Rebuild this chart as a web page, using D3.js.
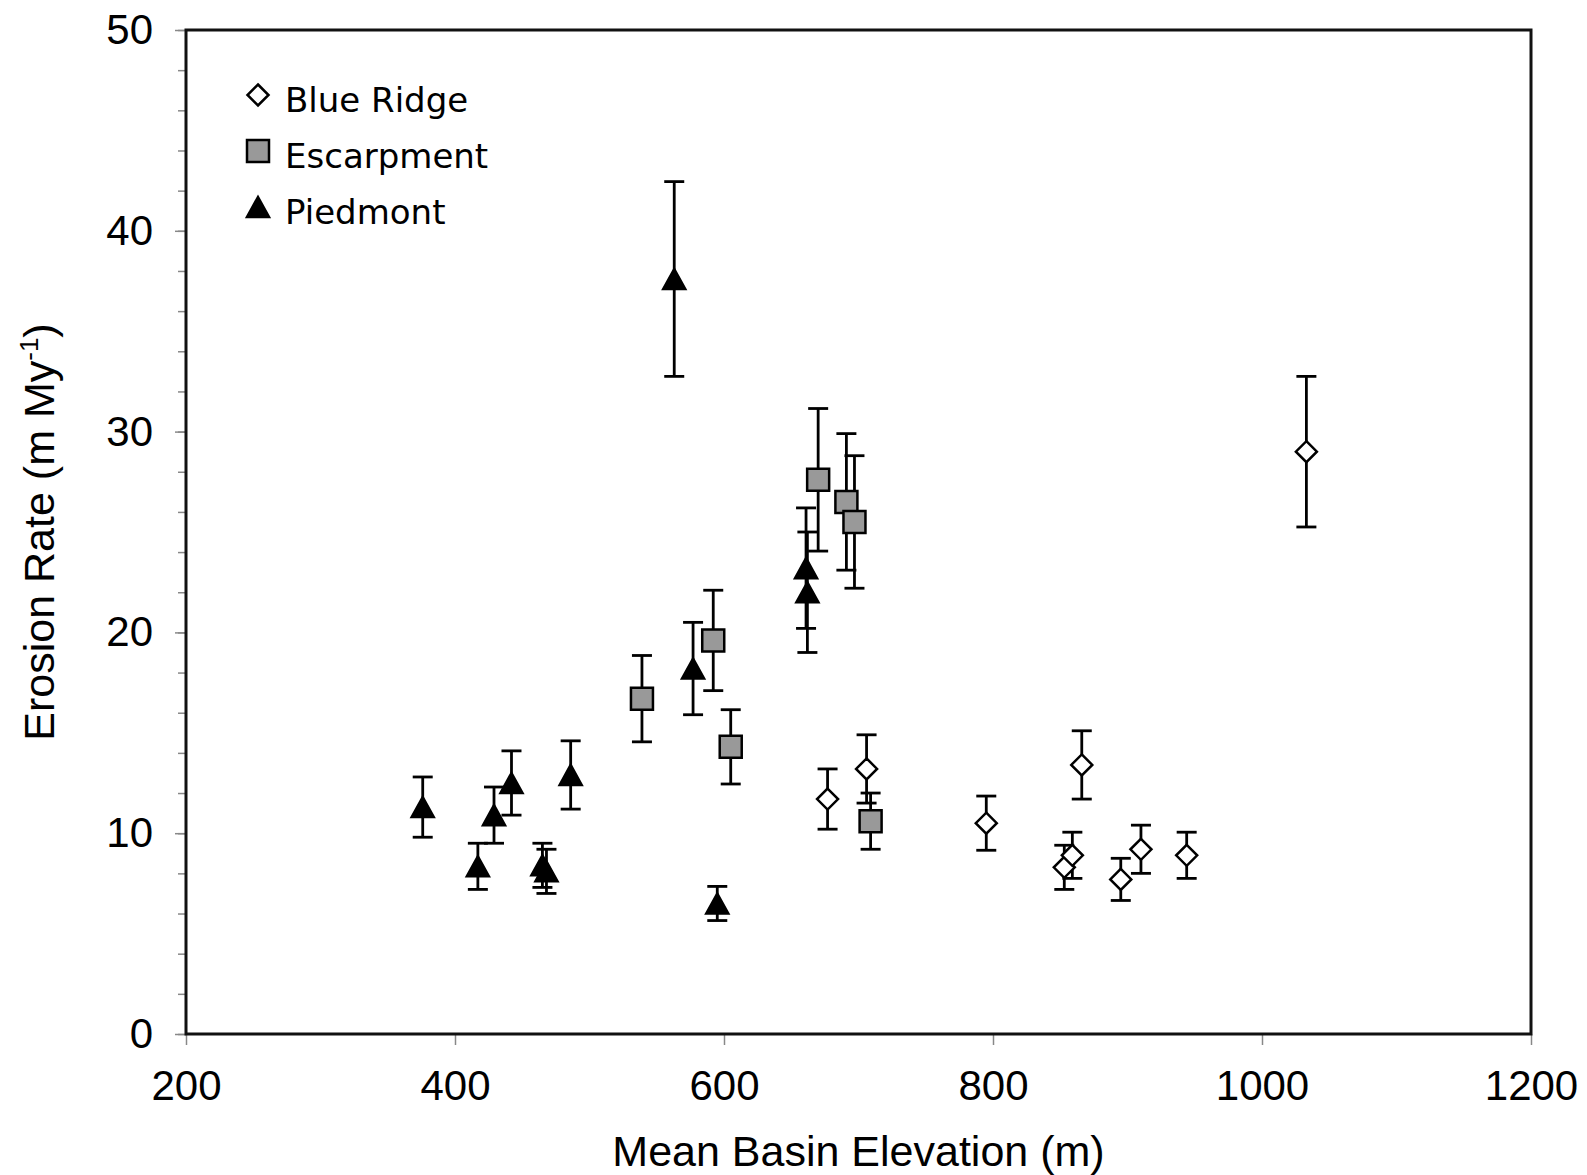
<!DOCTYPE html>
<meta charset="utf-8">
<script src="https://d3js.org/d3.v7.min.js"></script>
<style>
body { margin: 0; background: #fff; }
text { fill: #000; font-family: "Liberation Sans", Arial, sans-serif; }
.tick line { stroke: #888; stroke-width: 1.5px; }
.tick text { font-size: 42px; }
.legend text { font-family: "DejaVu Sans", Verdana, sans-serif; font-size: 34px; }
</style>
<body>
<script>

// Blue Ridge basins
var blueElev = [677, 706, 795, 853, 859, 866, 895, 910, 944, 1033];
var blueRate = [11.7, 13.2, 10.5, 8.3, 8.9, 13.4, 7.7, 9.2, 8.9, 29.0];
var blueErr  = [1.5, 1.7, 1.35, 1.1, 1.15, 1.7, 1.05, 1.2, 1.15, 3.75];

// Escarpment basins
var escElev = [539, 592, 605, 670, 691, 697, 709];
var escRate = [16.7, 19.6, 14.3, 27.6, 26.5, 25.5, 10.6];
var escErr  = [2.15, 2.5, 1.85, 3.55, 3.4, 3.3, 1.4];

// Piedmont basins
var pieElev = [376, 417, 429, 442, 465, 468, 486, 563, 577, 595, 661, 662];
var pieRate = [11.3, 8.35, 10.9, 12.5, 8.4, 8.1, 12.9, 37.6, 18.2, 6.5, 23.2, 22.0];
var pieErr  = [1.5, 1.15, 1.4, 1.6, 1.1, 1.1, 1.7, 4.85, 2.3, 0.85, 3.0, 3.0];

var xTicks = [200, 400, 600, 800, 1000, 1200];
var yTicks = [0, 10, 20, 30, 40, 50];
var seriesNames = ["Blue Ridge", "Escarpment", "Piedmont"];

var W = 1587, H = 1175;
var margin = {top: 30, right: 56, bottom: 141, left: 186};
var width = W - margin.left - margin.right;
var height = H - margin.top - margin.bottom;

var svg = d3.select("body").append("svg")
    .attr("width", W)
    .attr("height", H);

var g = svg.append("g")
    .attr("transform", "translate(" + margin.left + "," + margin.top + ")");

var x = d3.scaleLinear().domain([200, 1200]).range([0, width]);
var y = d3.scaleLinear().domain([0, 50]).range([height, 0]);

// minor y ticks every 2
g.append("g")
    .call(d3.axisLeft(y).tickValues(d3.range(0, 51, 2)).tickSize(8).tickFormat(""))
    .call(function(a) { a.select(".domain").remove(); });

g.append("g")
    .call(d3.axisLeft(y).tickValues(yTicks).tickSize(11).tickPadding(22).tickFormat(d3.format("d")))
    .call(function(a) { a.select(".domain").remove(); });

g.append("g")
    .attr("transform", "translate(0," + height + ")")
    .call(d3.axisBottom(x).tickValues(xTicks).tickSize(11).tickPadding(25).tickFormat(d3.format("d")))
    .call(function(a) { a.select(".domain").remove(); });

// frame
g.append("rect")
    .attr("width", width)
    .attr("height", height)
    .attr("fill", "none")
    .attr("stroke", "#111")
    .attr("stroke-width", 3);

// marker shapes
var shapes = {
  diamond: "M0,-10.5L10.5,0L0,10.5L-10.5,0Z",
  square: "M-11,-11H11V11H-11Z",
  triangle: "M0,-10L11,10L-11,10Z"
};

var series = [
  {name: seriesNames[0], elev: blueElev, rate: blueRate, err: blueErr, shape: "diamond", fill: "#fff"},
  {name: seriesNames[1], elev: escElev, rate: escRate, err: escErr, shape: "square", fill: "#999"},
  {name: seriesNames[2], elev: pieElev, rate: pieRate, err: pieErr, shape: "triangle", fill: "#000"}
];

series.forEach(function(s) {
  var pts = s.elev.map(function(e, i) { return {x: e, y: s.rate[i], e: s.err[i]}; });
  var bars = g.append("g").selectAll("g").data(pts).enter().append("g")
      .attr("stroke", "#000").attr("stroke-width", 2.8);
  bars.append("line")
      .attr("x1", function(d) { return x(d.x); })
      .attr("x2", function(d) { return x(d.x); })
      .attr("y1", function(d) { return y(d.y + d.e); })
      .attr("y2", function(d) { return y(d.y - d.e); });
  [1, -1].forEach(function(sign) {
    bars.append("line")
        .attr("x1", function(d) { return x(d.x) - 10; })
        .attr("x2", function(d) { return x(d.x) + 10; })
        .attr("y1", function(d) { return y(d.y + sign * d.e); })
        .attr("y2", function(d) { return y(d.y + sign * d.e); });
  });
  g.append("g").selectAll("path").data(pts).enter().append("path")
      .attr("d", shapes[s.shape])
      .attr("transform", function(d) { return "translate(" + x(d.x) + "," + y(d.y) + ")"; })
      .attr("fill", s.fill)
      .attr("stroke", "#000")
      .attr("stroke-width", 2.5);
});

// legend
var legend = svg.append("g").attr("class", "legend");
series.forEach(function(s, i) {
  var ly = 95 + i * 56;
  legend.append("path")
      .attr("d", shapes[s.shape])
      .attr("transform", "translate(258," + ly + ")")
      .attr("fill", s.fill)
      .attr("stroke", "#000")
      .attr("stroke-width", 2.5);
  legend.append("text")
      .attr("x", 285)
      .attr("y", ly + 17)
      .text(s.name);
});

// axis titles
svg.append("text")
    .attr("x", margin.left + width / 2)
    .attr("y", 1166)
    .attr("text-anchor", "middle")
    .style("font-size", "43px")
    .text("Mean Basin Elevation (m)");

var yt = svg.append("text")
    .attr("transform", "translate(54," + (margin.top + height / 2) + ") rotate(-90)")
    .attr("text-anchor", "middle")
    .style("font-size", "43px");
yt.append("tspan").text("Erosion Rate (m My");
yt.append("tspan").attr("dy", -16).style("font-size", "26px").text("-1");
yt.append("tspan").attr("dy", 16).text(")");

</script>
</body>
</html>
